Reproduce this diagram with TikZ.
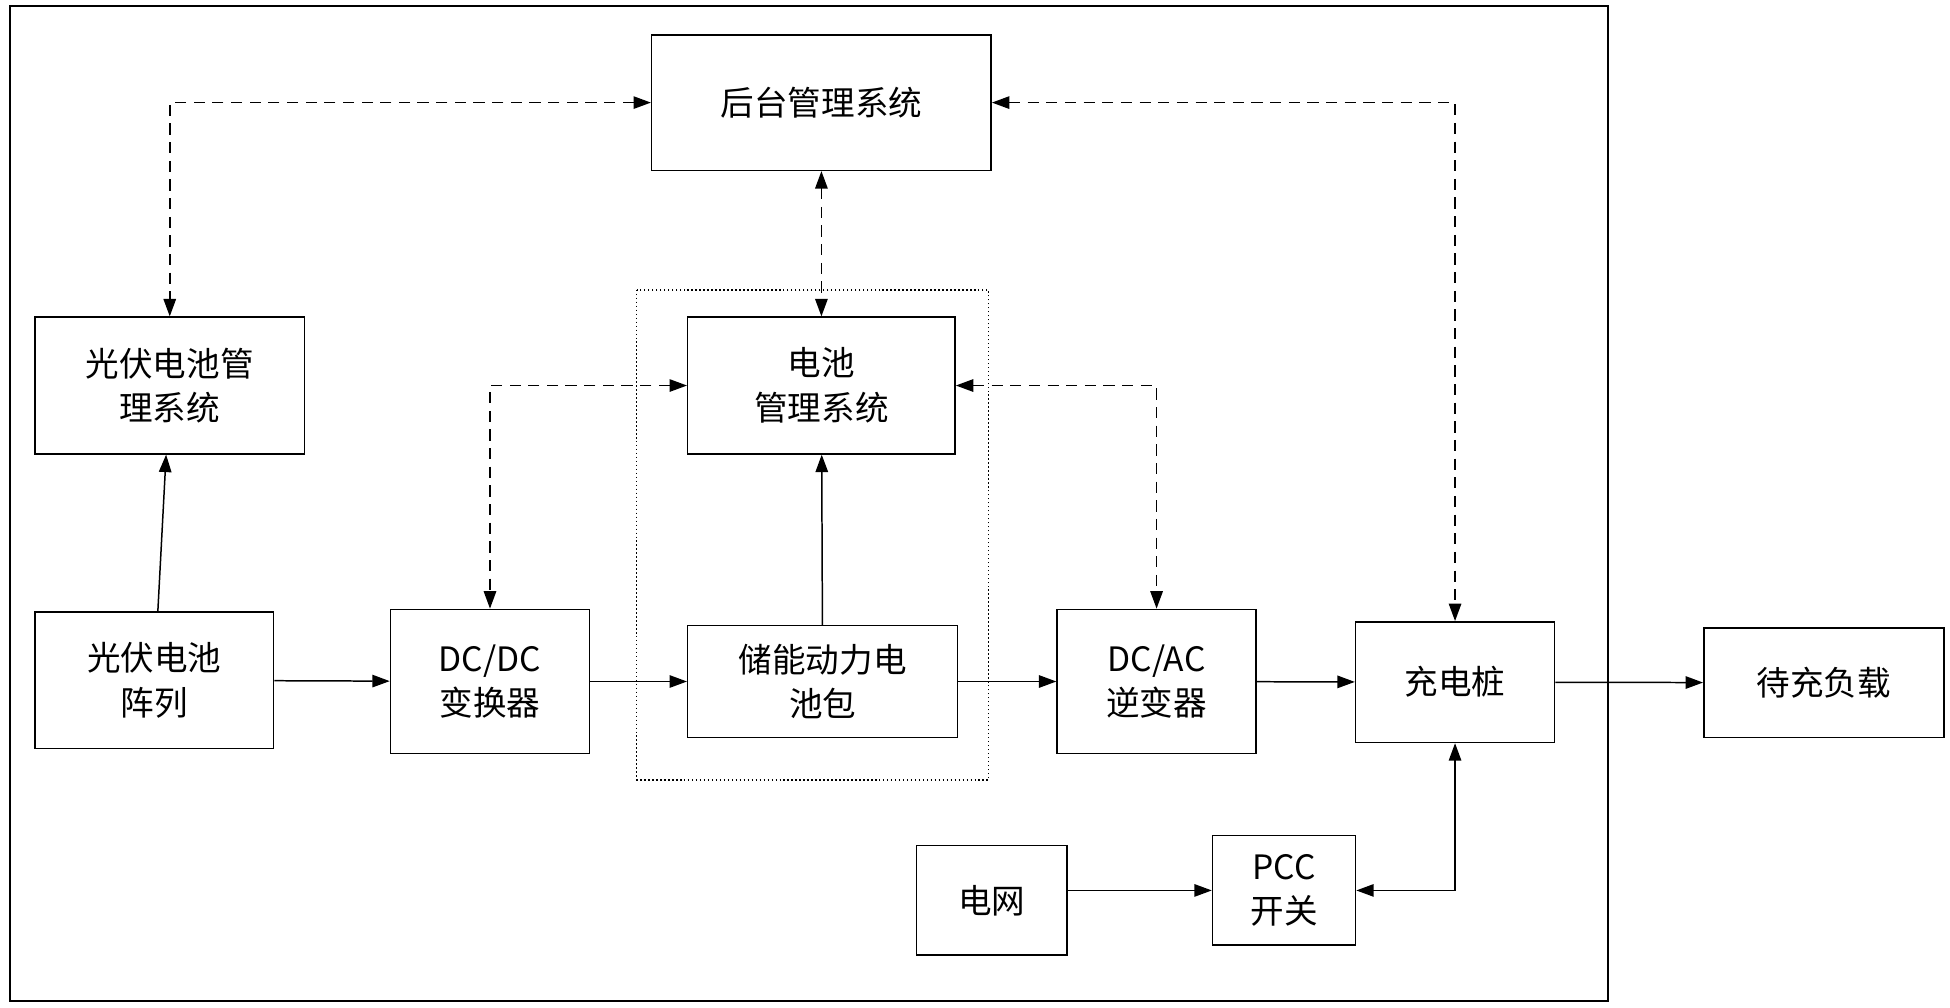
\documentclass[tikz,border=0pt]{standalone}
\usepackage{fontspec}
\newfontfamily\cjk{Noto Sans CJK SC}
\usetikzlibrary{arrows.meta}
\tikzset{every picture/.style={line width=1.2pt}}
\tikzset{blk/.style={draw,inner sep=0pt,align=center,font=\cjk\fontsize{27}{36}\selectfont},
  sarr/.style={-{Triangle[length=14pt,width=10pt]}},
  darr/.style={{Triangle[length=14pt,width=10pt]}-{Triangle[length=14pt,width=10pt]},dash pattern=on 9pt off 6pt}}

\begin{document}
\begin{tikzpicture}[x=1pt,y=1pt,yscale=-1,xscale=1]
    \useasboundingbox (0,0) rectangle (1568,810);
    % frames
    \draw (8,5) rectangle (1293,805);
    \draw [dotted,line width=1.2pt] (512,233) rectangle (795,627);

    % Blocks
    \node [blk,minimum width=273pt,minimum height=109pt] (bg) at (660.5,82.5) {后台管理系统};
    \node [blk,minimum width=215pt,minimum height=110pt] (bms) at (660.5,310) {电池\\管理系统};
    \node [blk,minimum width=217pt,minimum height=90pt] (bat) at (661.5,548) {储能动力电\\池包};
    \node [blk,minimum width=217pt,minimum height=110pt] (pvm) at (136.5,310) {光伏电池管\\理系统};
    \node [blk,minimum width=192pt,minimum height=110pt] (pv) at (124,547) {光伏电池\\阵列};
    \node [blk,minimum width=160pt,minimum height=116pt] (dcdc) at (394,548) {DC/DC\\变换器};
    \node [blk,minimum width=160pt,minimum height=116pt] (dcac) at (930,548) {DC/AC\\逆变器};
    \node [blk,minimum width=160pt,minimum height=97pt] (chg) at (1170,548.5) {充电桩};
    \node [blk,minimum width=193pt,minimum height=88pt] (load) at (1466.5,549) {待充负载};
    \node [blk,minimum width=121pt,minimum height=88pt] (grid) at (797.5,724) {电网};
    \node [blk,minimum width=115pt,minimum height=88pt] (pcc) at (1032.5,716) {PCC\\开关};

    % Solid arrows
    \draw [sarr] (pv) -- (pvm);
    \draw [sarr] (pv) -- (dcdc);
    \draw [sarr] (dcdc) -- (bat);
    \draw [sarr] (bat) -- (dcac);
    \draw [sarr] (dcac) -- (chg);
    \draw [sarr] (chg) -- (load);
    \draw [sarr] (bat) -- (bms);
    \draw [sarr] (grid.east |- pcc) -- (pcc);
    \draw [{Triangle[length=14pt,width=10pt]}-{Triangle[length=14pt,width=10pt]}] (pcc) -| (chg);

    % Dashed arrows
    \draw [darr] (bg.west) -| (pvm.north);
    \draw [darr] (bg) -- (bms);
    \draw [darr] (bg.east) -| (chg.north);
    \draw [darr] (bms.west) -| (dcdc.north);
    \draw [darr] (bms.east) -| (dcac.north);
\end{tikzpicture}
\end{document}
